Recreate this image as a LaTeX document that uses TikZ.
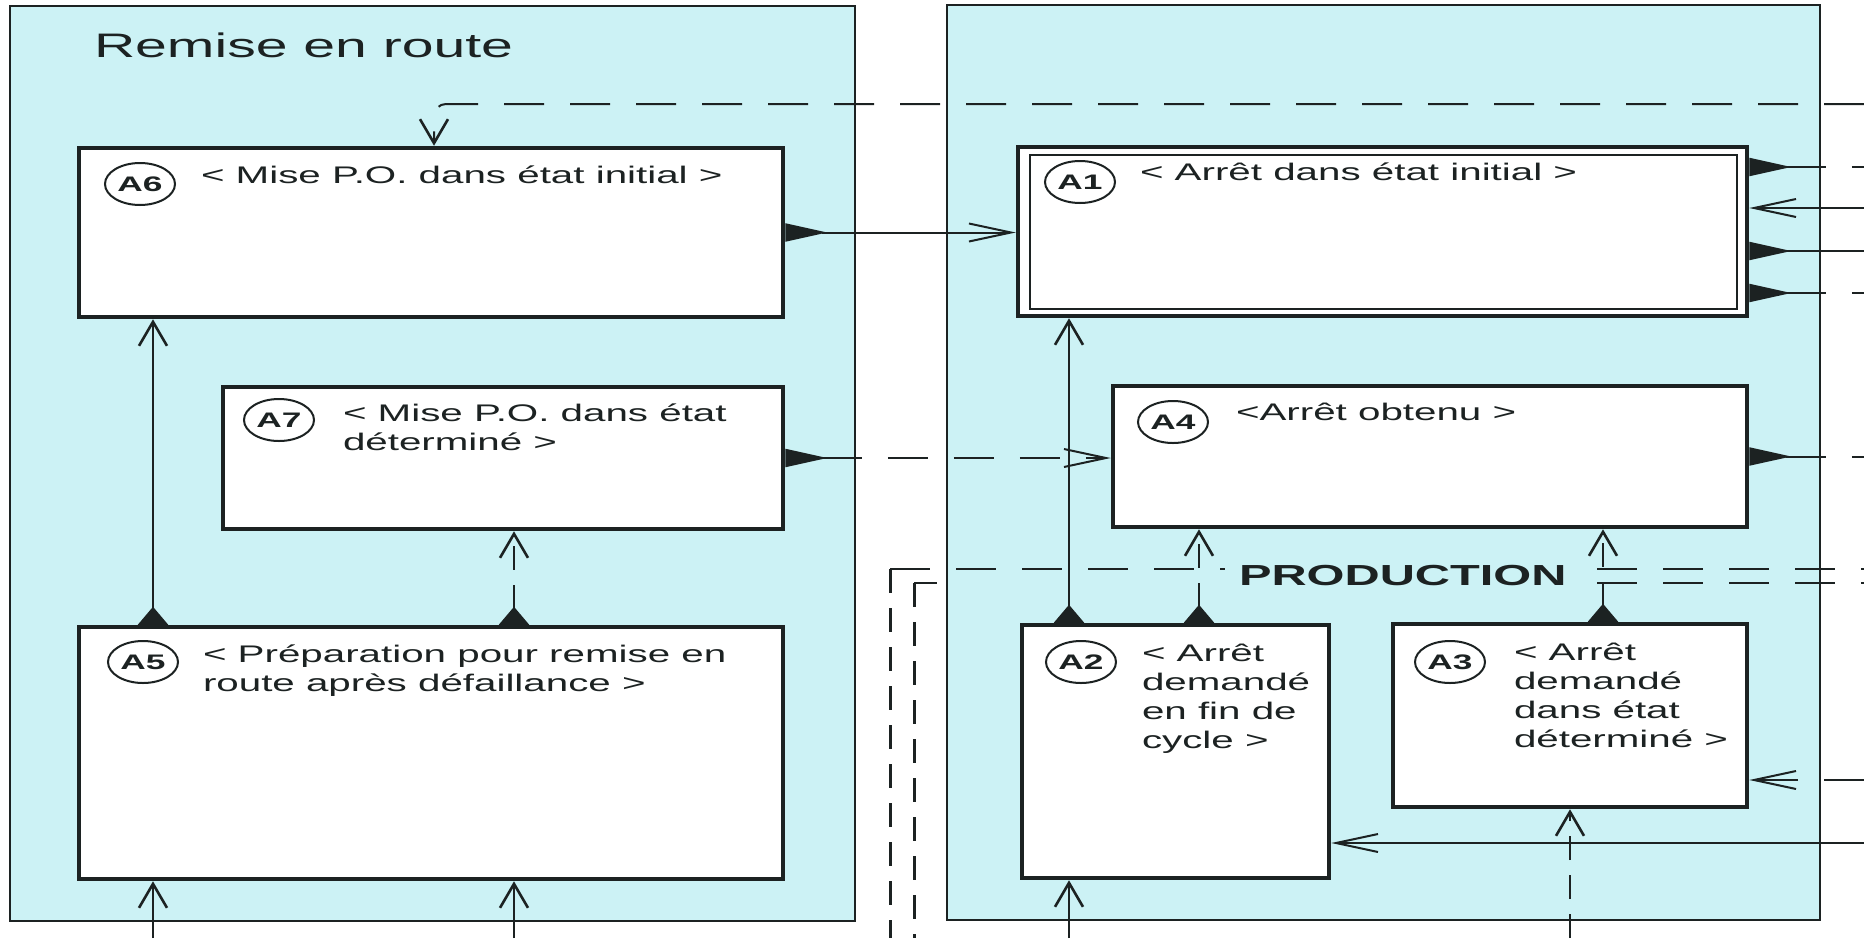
\documentclass[tikz,border=0pt]{standalone}
\usepackage{fontspec}
\setmainfont[FakeStretch=1.68]{Liberation Sans}
\usetikzlibrary{arrows.meta,shapes.geometric}

\definecolor{panel}{RGB}{204,242,245}
\definecolor{ink}{RGB}{28,34,34}

\tikzset{
  InH/.tip={Straight Barb[length=42pt,width=18pt,line width=2pt]},
  InV/.tip={Straight Barb[length=24pt,width=28pt,line width=2.6pt]},
  OutH/.tip={Triangle[reversed,length=42pt,width=18pt]},
  OutV/.tip={Triangle[reversed,length=18pt,width=30pt]},
  hdash/.style={dash pattern=on 40pt off 26pt},
  vdash/.style={dash pattern=on 24pt off 15pt},
  fnbox/.style={draw=ink,line width=4.5pt,fill=white,inner sep=0},
  tag/.style={ellipse,draw=ink,line width=2pt,fill=white,minimum width=70pt,minimum height=42pt,inner sep=0,font=\bfseries\fontsize{21}{21}\selectfont},
  txt/.style={anchor=base west,align=left,inner sep=0,font=\fontsize{24}{29}\selectfont},
}

\begin{document}
\begin{tikzpicture}[x=1pt,y=-1pt,line width=2pt,color=ink]
\useasboundingbox (0,0) rectangle (1864,938);
% the two zones
\draw[fill=panel] (10,6) rectangle (855,921);
\draw[fill=panel] (947,5) rectangle (1820,920);
\node[anchor=base west,inner sep=0,font=\fontsize{34}{40}\selectfont] (title) at (93,57) {Remise en route};

% steps
\node[fnbox,minimum width=704pt,minimum height=169pt] (A6) at (431,232.5) {};
\node[fnbox,minimum width=560pt,minimum height=142pt] (A7) at (503,458) {};
\node[fnbox,minimum width=704pt,minimum height=252pt] (A5) at (431,753) {};
\node[fnbox,minimum width=729pt,minimum height=169pt] (A1) at (1382.5,231.5) {};
\node[fnbox,minimum width=634pt,minimum height=141pt] (A4) at (1430,456.5) {};
\node[fnbox,minimum width=307pt,minimum height=253pt] (A2) at (1175.5,751.5) {};
\node[fnbox,minimum width=354pt,minimum height=183pt] (A3) at (1570,715.5) {};
\draw ([shift={(14,10)}]A1.north west) rectangle ([shift={(-12,-9)}]A1.south east);

\node[tag] (t6) at (140,184) {A6};
\node[tag] (t7) at (279,420) {A7};
\node[tag] (t5) at (143,662) {A5};
\node[tag] (t1) at (1080,182) {A1};
\node[tag] (t4) at (1173,422) {A4};
\node[tag] (t2) at (1081,662) {A2};
\node[tag] (t3) at (1450,662) {A3};

% texts sit on the baseline of their last line
\node[txt] (l6) at (200,183) {< Mise P.O. dans état initial >};
\node[txt] (l7) at (342,450) {< Mise P.O. dans état\\déterminé >};
\node[txt] (l5) at (202,691) {< Préparation pour remise en\\route après défaillance >};
\node[txt] (l1) at (1139,180) {< Arrêt dans état initial >};
\node[txt] (l4) at (1235,420) {<Arrêt obtenu >};
\node[txt] (l2) at (1141,748) {< Arrêt\\demandé\\en fin de\\cycle >};
\node[txt] (l3) at (1513,747) {< Arrêt\\demandé\\dans état\\déterminé >};

% lanes and free ends
\coordinate (xa) at (153,0);
\coordinate (xb) at (514,0);
\coordinate (xc) at (434,0);
\coordinate (xd) at (1069,0);
\coordinate (xe) at (1199,0);
\coordinate (xf) at (1603,0);
\coordinate (xg) at (1570,0);
\coordinate (bot) at (0,938);
\coordinate (rgt) at (1864,0);
\coordinate (c0) at (1864,104);
\coordinate (r1) at (1864,167);
\coordinate (r2) at (1864,208);
\coordinate (r3) at (1864,251);
\coordinate (r4) at (1864,293);
\coordinate (r5) at (1864,780);
\coordinate (r6) at (1864,843);

% links
\draw[hdash,rounded corners=12pt,-{InV}] (c0) -| (xc |- A6.north);
\draw[{OutH}-{InH}] (A6.east) -- (A6.east -| A1.west);
\draw[hdash,{OutH}-{InH}] (A7.east) -- (A7.east -| A4.west);
\draw[{OutV}-{InV}] (xa |- A5.north) -- (xa |- A6.south);
\draw[vdash,{OutV}-{InV}] (xb |- A5.north) -- (xb |- A7.south);
\draw[-{InV}] (xa |- bot) -- (xa |- A5.south);
\draw[-{InV}] (xb |- bot) -- (xb |- A5.south);
\draw[{OutV}-{InV}] (xd |- A2.north) -- (xd |- A1.south);
\draw[vdash,{OutV}-{InV}] (xe |- A2.north) -- (xe |- A4.south);
\draw[vdash,{OutV}-{InV}] (xf |- A3.north) -- (xf |- A4.south);
\draw[-{InV}] (xd |- bot) -- (xd |- A2.south);
\draw[vdash,-{InV}] (xg |- bot) -- (xg |- A3.south);
\draw[hdash,{OutH}-] (A1.east |- r1) -- (r1);
\draw[-{InH}] (r2) -- (A1.east |- r2);
\draw[{OutH}-] (A1.east |- r3) -- (r3);
\draw[hdash,{OutH}-] (A1.east |- r4) -- (r4);
\draw[hdash,{OutH}-] (A4.east) -- (A4.east -| rgt);
\draw[hdash,-{InH}] (r5) -- (A3.east |- r5);
\draw[-{InH}] (r6) -- (A2.east |- r6);

% production frame
\draw[hdash] (890,569) -- (1225,569);
\draw[hdash] (1597,569) -- (1864,569);
\draw[hdash] (1597,583) -- (1864,583);
\draw[vdash,line width=3pt] (890,569) -- (890,938);
\draw (914,583) -- (937,583);
\draw[vdash,line width=3pt] (914,583) -- (914,938);
\node[anchor=base west,inner sep=0,font=\bfseries\fontsize{29}{34}\selectfont] (prod) at (1238,585) {PRODUCTION};
\end{tikzpicture}
\end{document}
